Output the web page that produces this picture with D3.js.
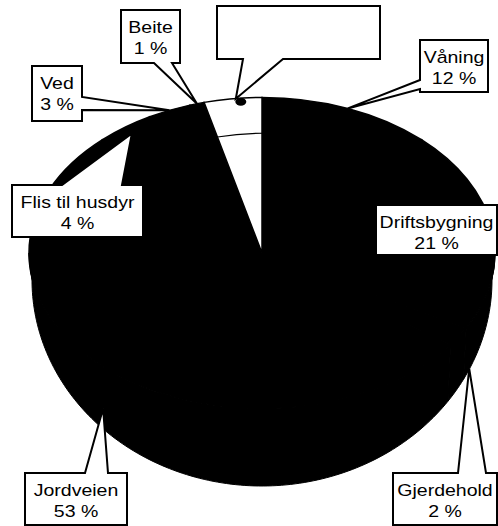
<!DOCTYPE html>
<html>
<head>
<meta charset="utf-8">
<script src="https://cdn.jsdelivr.net/npm/d3@7"></script>
<style>
  html, body { margin: 0; padding: 0; background: #fff; }
  svg { display: block; }
  text { font-family: "Liberation Sans", Arial, sans-serif; font-size: 16px; fill: #000; }
</style>
</head>
<body>
<div id="chart"></div>
<script>
'use strict';

// slices clockwise from 12 o'clock, last one has no name
var categories = ['Våning', 'Driftsbygning', 'Gjerdehold', 'Jordveien', 'Flis til husdyr', 'Ved', 'Beite', ''];
var shares = [12, 21, 2, 53, 4, 3, 1, 4];
var sliceFills = ['#000', '#000', '#000', '#000', '#000', '#000', '#000', '#fff'];

// callout boxes: [x, y, w, h], side of the pointer, its base along that side, nudge of the tip
var callouts = {
  'Våning':          { box: [420, 40, 68, 52],  side: 'left',   base: [80, 89] },
  'Driftsbygning':   { box: [376, 205, 121, 50], side: null },
  'Gjerdehold':      { box: [393, 473, 104, 52], side: 'top',    base: [458, 486], dx: 12 },
  'Jordveien':       { box: [25, 473, 102, 52],  side: 'top',    base: [85, 108], dx: -6 },
  'Flis til husdyr': { box: [12, 185, 131, 52],  side: 'top',    base: [62, 122] },
  'Ved':             { box: [32, 66, 50, 55],    side: 'right',  base: [97, 110] },
  'Beite':           { box: [121, 10, 59, 53],   side: 'bottom', base: [154, 172] },
  '':                { box: [217, 6, 163, 53],   side: 'bottom', base: [243, 283], dx: 3 }
};

var width = 498, height = 526;
// top face ellipse and the wider, lower base ellipse of the tilted pie
var top3d = { cx: 262, cy: 253, rx: 233, ry: 155.5 };
var base3d = { cx: 262, cy: 280, rx: 230, ry: 206 };
var textStretch = 1.22;

var svg = d3.select('#chart').append('svg')
  .attr('width', width)
  .attr('height', height);

var pie = d3.pie().sort(null).value(function(d) { return d; });
var arcs = pie(shares).map(function(a, i) {
  a.name = categories[i];
  a.fill = sliceFills[i];
  return a;
});

function pt(e, a, r) {
  return [e.cx + e.rx * r * Math.sin(a), e.cy - e.ry * r * Math.cos(a)];
}

// side walls, only the front half (angles between pi/2 and 3pi/2) shows
var sides = svg.append('g');
arcs.forEach(function(d) {
  var a0 = Math.max(d.startAngle, Math.PI / 2);
  var a1 = Math.min(d.endAngle, 3 * Math.PI / 2);
  if (a1 <= a0) return;
  var steps = Math.max(2, Math.ceil((a1 - a0) / 0.02));
  var angles = d3.range(steps + 1).map(function(k) { return a0 + (a1 - a0) * k / steps; });
  var upper = angles.map(function(a) { return pt(top3d, a, 1); });
  var lower = angles.map(function(a) { return pt(base3d, a, 1); }).reverse();
  sides.append('path')
    .attr('d', d3.line()(upper.concat(lower)) + 'Z')
    .attr('fill', '#000')
    .attr('stroke', '#000')
    .attr('stroke-width', 1);
});

// top face
var arc = d3.arc().innerRadius(0).outerRadius(top3d.rx);
var face = svg.append('g')
  .attr('transform', 'translate(' + top3d.cx + ',' + top3d.cy + ') scale(1,' + (top3d.ry / top3d.rx) + ')');

face.selectAll('path.slice')
  .data(arcs)
  .enter()
  .append('path')
  .attr('class', 'slice')
  .attr('d', arc)
  .attr('fill', function(d) { return d.fill; })
  .attr('stroke', '#000')
  .attr('stroke-width', 1.5)
  .attr('vector-effect', 'non-scaling-stroke');

// thin inner rim line across the light slice
var light = arcs[arcs.length - 1];
face.append('path')
  .attr('d', d3.arc().innerRadius(top3d.rx * 0.77).outerRadius(top3d.rx * 0.77)(light))
  .attr('fill', 'none')
  .attr('stroke', '#000')
  .attr('stroke-width', 1.2)
  .attr('vector-effect', 'non-scaling-stroke');

// anchor point of each callout on the pie
function anchor(d) {
  var a = (d.startAngle + d.endAngle) / 2;
  var r = d.name === 'Flis til husdyr' ? 0.95 : 1;
  var p = pt(top3d, a, r);
  if (Math.cos(a) < 0) {
    var q = pt(base3d, a, r);
    p = [p[0] + (q[0] - p[0]) * 0.6, p[1] + (q[1] - p[1]) * 0.6];
  }
  var c = callouts[d.name];
  return [p[0] + (c.dx || 0), p[1]];
}

function calloutPath(c, tip) {
  var x = c.box[0], y = c.box[1], w = c.box[2], h = c.box[3];
  var b = c.base;
  var p = [[x, y]];
  if (c.side === 'top') p.push([b[0], y], tip, [b[1], y]);
  p.push([x + w, y]);
  if (c.side === 'right') p.push([x + w, b[0]], tip, [x + w, b[1]]);
  p.push([x + w, y + h]);
  if (c.side === 'bottom') p.push([b[1], y + h], tip, [b[0], y + h]);
  p.push([x, y + h]);
  if (c.side === 'left') p.push([x, b[1]], tip, [x, b[0]]);
  return d3.line()(p) + 'Z';
}

// small marker at the unnamed slice
var lightTip = anchor(light);
svg.append('ellipse')
  .attr('cx', lightTip[0] + 5)
  .attr('cy', lightTip[1] + 3)
  .attr('rx', 5.5)
  .attr('ry', 4)
  .attr('fill', '#000');

var labels = svg.append('g');
arcs.forEach(function(d) {
  var c = callouts[d.name];
  labels.append('path')
    .attr('d', calloutPath(c, anchor(d)))
    .attr('fill', '#fff')
    .attr('stroke', '#000')
    .attr('stroke-width', 2)
    .attr('stroke-linejoin', 'miter');

  if (d.name === '') return;
  var mx = c.box[0] + c.box[2] / 2;
  [d.name, d.value + ' %'].forEach(function(line, k) {
    labels.append('text')
      .attr('text-anchor', 'middle')
      .attr('transform', 'translate(' + mx + ',' + (c.box[1] + 22.5 + k * 21.5) + ') scale(' + textStretch + ',1)')
      .text(line);
  });
});
</script>
</body>
</html>
